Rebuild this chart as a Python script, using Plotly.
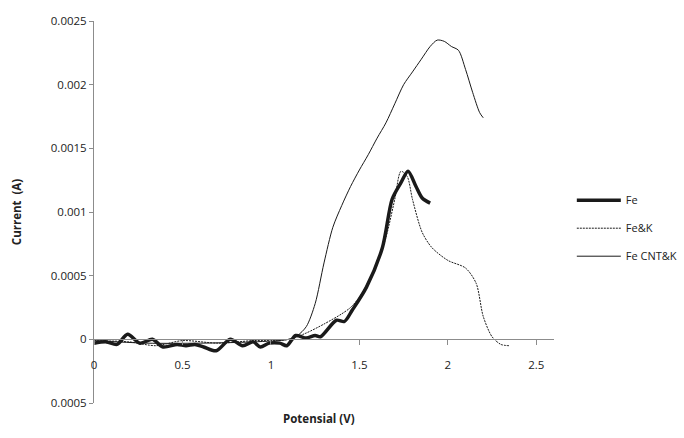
import plotly.graph_objects as go

# ---- data ----
fe_x = [0.0, 0.07, 0.13, 0.19, 0.26, 0.33, 0.39, 0.47, 0.52, 0.57, 0.62, 0.69, 0.77, 0.84, 0.9, 0.94, 0.99,
        1.05, 1.09, 1.14, 1.2, 1.25, 1.28, 1.37, 1.415, 1.46, 1.54, 1.63, 1.685, 1.735, 1.775, 1.82, 1.855, 1.9]
fe_y = [-0.00003, -0.00002, -0.00004, 0.00004, -0.00003, 0.0, -0.00006, -0.00004, -0.00005, -0.00004, -0.00006, -0.00009,
        0.0, -0.00005, -0.00002, -0.00006, -0.00003, -0.00003, -0.00005, 0.00003, 0.00001, 0.00003, 0.00002,
        0.00015, 0.00014, 0.00023, 0.00041, 0.00072, 0.0011, 0.00123, 0.00132, 0.0012, 0.00111, 0.00107]

fek_x = [0.0, 0.2, 0.35, 0.5, 0.7, 0.9, 1.1, 1.2, 1.3, 1.4, 1.45, 1.5, 1.55, 1.6, 1.65, 1.7, 1.735, 1.77,
         1.8, 1.855, 1.91, 2.0, 2.1, 2.16, 2.2, 2.25, 2.3, 2.345]
fek_y = [-0.00001, -0.00002, -0.00005, -0.00001, -0.00003, -0.00001, 0.0, 0.00005, 0.00012, 0.0002, 0.00025,
         0.00033, 0.00045, 0.0006, 0.0008, 0.0011, 0.00132, 0.00128, 0.0011, 0.00084, 0.00072, 0.00062, 0.00056,
         0.00044, 0.00018, 0.00002, -0.00004, -0.00005]

cnt_x = [0.0, 0.3, 0.6, 0.9, 1.1, 1.15, 1.2, 1.25, 1.3, 1.35, 1.4, 1.45, 1.5, 1.55, 1.6, 1.65, 1.7, 1.75, 1.8,
         1.85, 1.9, 1.94, 1.98, 2.02, 2.06, 2.1, 2.14, 2.18, 2.2]
cnt_y = [-0.00001, -0.00003, -0.00003, -0.00002, 0.0, 0.00003, 0.0001, 0.00028, 0.0006, 0.00088, 0.00105, 0.0012,
         0.00133, 0.00145, 0.00158, 0.0017, 0.00185, 0.002, 0.0021, 0.0022, 0.0023, 0.00235, 0.00234, 0.0023,
         0.00227, 0.00212, 0.00194, 0.00178, 0.00174]

x_ticks = [0, 0.5, 1, 1.5, 2, 2.5]
x_tick_text = ["0", "0.5", "1", "1.5", "2", "2.5"]
y_ticks = [-0.0005, 0, 0.0005, 0.001, 0.0015, 0.002, 0.0025]
y_tick_text = ["0.0005", "0", "0.0005", "0.001", "0.0015", "0.002", "0.0025"]

x_range = [0, 2.6]
y_range = [-0.0005, 0.0025]

FONT = "Open Sans, Lato, sans-serif"
AX = "#8c8c8c"

fig = go.Figure()
fig.add_trace(go.Scatter(x=fe_x, y=fe_y, mode="lines", name="Fe", legendgroup="a",
                         line=dict(color="#1a1a1a", width=3.5, shape="spline", smoothing=0.8)))
fig.add_trace(go.Scatter(x=fek_x, y=fek_y, mode="lines", name="Fe&K", legendgroup="b",
                         line=dict(color="#1a1a1a", width=1, dash="2px,1px", shape="spline", smoothing=0.8)))
fig.add_trace(go.Scatter(x=cnt_x, y=cnt_y, mode="lines", name="Fe CNT&K", legendgroup="c",
                         line=dict(color="#1a1a1a", width=1, shape="spline", smoothing=0.8)))

pos0 = (0 - y_range[0]) / (y_range[1] - y_range[0])

fig.update_layout(
    width=684, height=438,
    margin=dict(l=94, r=130, t=21, b=35, autoexpand=False),
    paper_bgcolor="white", plot_bgcolor="white",
    font=dict(family=FONT, size=11, color="#222"),
    showlegend=True,
    legend=dict(xref="container", yref="container", x=0.836, y=0.479, xanchor="left", yanchor="middle",
                tracegroupgap=9, font=dict(size=11, color="#222"), bgcolor="rgba(0,0,0,0)", itemwidth=44),
    xaxis=dict(range=x_range, tickvals=x_ticks, ticktext=x_tick_text, showgrid=False, zeroline=False,
               showline=True, linecolor=AX, linewidth=1, ticks="outside", ticklen=5, tickcolor=AX,
               anchor="free", position=pos0, ticklabelstandoff=10,
               tickfont=dict(size=11.5, color="#222")),
    yaxis=dict(range=y_range, tickvals=y_ticks, ticktext=y_tick_text, showgrid=False, zeroline=False,
               showline=True, linecolor=AX, linewidth=1, ticks="outside", ticklen=4, tickcolor=AX,
               tickfont=dict(size=11.5, color="#222"),
               title=dict(text="<b>Current\u00a0 (A)</b>", font=dict(size=11.5, color="#222"), standoff=26)),
    annotations=[dict(text="<b>Potensial (V)</b>", x=0.49, y=-0.04, xref="paper", yref="paper",
                      xanchor="center", yanchor="middle", showarrow=False,
                      font=dict(size=11.5, color="#222"))],
)

fig.write_html("out.html")
